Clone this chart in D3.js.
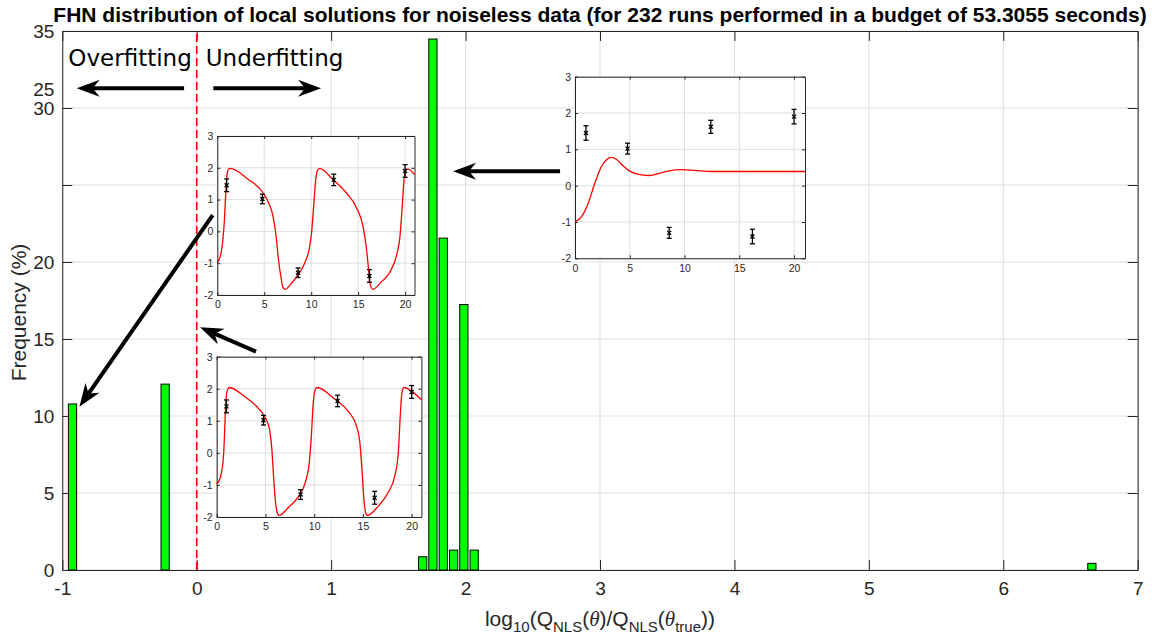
<!DOCTYPE html>
<html>
<head>
<meta charset="utf-8">
<script src="https://cdn.jsdelivr.net/npm/d3@7"></script>
<style>
    body { margin: 0; background: #fff; }
    svg { display: block; font-family: 'Liberation Sans', Arial, sans-serif; }
</style>
</head>
<body>
<svg id="chart" width="1155" height="639"></svg>
<script>

/*
*   Data
*/

const binCenters = [-0.924, -0.235, 1.681, 1.757, 1.834, 1.911, 1.987, 2.064, 6.659]
const frequencies = [10.78, 12.07, 0.86, 34.48, 21.55, 1.29, 17.24, 1.29, 0.43]
const BIN_WIDTH = 0.0766

const xTicks = [-1, 0, 1, 2, 3, 4, 5, 6, 7]
const yTicks = [0, 5, 10, 15, 20, 25, 30, 35]

// measured data shown in every inset
const obsTime = [1, 4.8, 8.6, 12.4, 16.2, 20]
const obsValue = [1.45, 1.02, -1.3, 1.62, -1.4, 1.9]
const obsError = [0.2, 0.15, 0.15, 0.18, 0.2, 0.2]

const insetXTicks = [0, 5, 10, 15, 20]
const insetYTicks = [-2, -1, 0, 1, 2, 3]

// fitted trajectories
const fitTopTime = [0, 0.36, 0.57, 0.75, 0.89, 1.03, 1.21, 1.39, 3.13, 4.9, 5.4, 5.9, 6.25, 6.5, 6.8, 7.0, 7.25, 7.9, 8.6, 9.3, 9.8, 10.05, 10.27, 10.48, 10.66, 10.87, 12.36, 13.78, 14.85, 15.49, 15.84, 16.1, 16.3, 16.55, 17.5, 18.4, 19.1, 19.47, 19.7, 19.9, 20.1, 20.3, 21]
const fitTopValue = [-0.98, -0.74, -0.32, 0.31, 1.14, 1.77, 1.96, 1.98, 1.67, 1.2, 0.94, 0.52, -0.11, -0.85, -1.48, -1.77, -1.82, -1.63, -1.37, -1.0, -0.53, -0.01, 0.83, 1.62, 1.91, 1.98, 1.62, 1.2, 0.73, 0.2, -0.43, -1.16, -1.69, -1.82, -1.58, -1.27, -0.74, -0.11, 0.83, 1.67, 1.96, 1.96, 1.79]

const fitBottomTime = [0, 0.38, 0.58, 0.72, 0.82, 0.93, 1.06, 1.3, 2.85, 4.39, 5.08, 5.42, 5.66, 5.83, 6.0, 6.2, 6.41, 7.3, 8.34, 9.09, 9.5, 9.71, 9.88, 10.05, 10.29, 12.1, 13.48, 14.34, 14.72, 14.92, 15.1, 15.27, 15.47, 16.57, 17.6, 18.28, 18.63, 18.83, 19.0, 19.21, 19.66, 21]
const fitBottomValue = [-0.97, -0.76, -0.45, 0.01, 0.73, 1.56, 1.92, 2.04, 1.76, 1.35, 1.04, 0.73, 0.11, -0.71, -1.43, -1.85, -1.95, -1.72, -1.38, -0.92, -0.3, 0.53, 1.45, 1.92, 2.04, 1.68, 1.3, 0.84, 0.22, -0.61, -1.43, -1.85, -1.95, -1.66, -1.23, -0.71, 0.01, 1.14, 1.87, 2.04, 1.99, 1.66]

const fitRightTime = [0, 0.6, 1.2, 1.8, 2.4, 2.9, 3.35, 3.8, 4.4, 5.0, 5.8, 6.7, 7.6, 8.5, 9.7, 10.95, 12.5, 14.6, 17, 21]
const fitRightValue = [-0.99, -0.85, -0.49, 0.06, 0.52, 0.72, 0.78, 0.72, 0.54, 0.4, 0.31, 0.28, 0.33, 0.4, 0.44, 0.42, 0.39, 0.39, 0.39, 0.39]

// annotation arrows in main-axis units: [x1, y1, x2, y2] (tail -> tip)
const arrows = [
    [-0.094, 31.28, -0.893, 31.28],
    [0.123, 31.28, 0.925, 31.28],
    [0.119, 23.05, -0.873, 10.6],
    [0.441, 14.18, 0.0245, 15.76],
    [2.703, 25.9, 1.907, 25.9],
]

const notes = [
    { text: 'Overfitting', x: -0.955, y: 32.7 },
    { text: 'Underfitting', x: 0.067, y: 32.7 },
]


/*
*   Layout
*/

const COLORS = {
    axis: '#262626',
    grid: '#dfdfdf',
    bar: '#00ff00',
    fit: '#ff0000',
}

const MAIN = { left: 62.3, top: 31, right: 1137.7, bottom: 570 }

const INSETS = [
    { x: 217.3, y: 136, w: 197.2, h: 159, t: fitTopTime, v: fitTopValue },
    { x: 216.7, y: 356.7, w: 204.7, h: 160.3, t: fitBottomTime, v: fitBottomValue },
    { x: 575, y: 76.7, w: 230, h: 181.6, t: fitRightTime, v: fitRightValue },
]

const TICK_FONT = 19
const LABEL_FONT = 21
const Y_LABEL_SHIFT = { 25: -96 }

const svg = d3.select('#chart')

const x = d3.scaleLinear().domain([-1, 7]).range([MAIN.left, MAIN.right])
const y = d3.scaleLinear().domain([0, 35]).range([MAIN.bottom, MAIN.top])

const plain = d => String(d)


/*
*   Styles an axis group MATLAB-like.
*/

const styleAxis = (g, size) => {
    g.select('.domain').attr('stroke', COLORS.axis).attr('stroke-width', 1)
    g.selectAll('.tick line').attr('stroke', COLORS.axis)
    g.selectAll('.tick text').attr('fill', COLORS.axis).style('font-size', size + 'px')
}


/*
*   Grid
*/

const grid = svg.append('g')
grid.selectAll('line.vx').data(xTicks).join('line')
    .attr('x1', d => x(d)).attr('x2', d => x(d))
    .attr('y1', MAIN.top).attr('y2', MAIN.bottom)
    .attr('stroke', COLORS.grid)
grid.selectAll('line.hy').data(yTicks).join('line')
    .attr('x1', MAIN.left).attr('x2', MAIN.right)
    .attr('y1', d => y(d)).attr('y2', d => y(d))
    .attr('stroke', COLORS.grid)


/*
*   Axes
*/

svg.append('g').attr('transform', `translate(0,${MAIN.bottom})`)
    .call(d3.axisBottom(x).tickValues(xTicks).tickFormat(plain).tickSize(-10).tickSizeOuter(0).tickPadding(12))
    .call(g => styleAxis(g, TICK_FONT))
svg.append('g').attr('transform', `translate(0,${MAIN.top})`)
    .call(d3.axisTop(x).tickValues(xTicks).tickSize(-10).tickSizeOuter(0).tickFormat(''))
    .call(g => styleAxis(g, TICK_FONT))
const yAxis = svg.append('g').attr('transform', `translate(${MAIN.left},0)`)
    .call(d3.axisLeft(y).tickValues(yTicks).tickFormat(plain).tickSize(-10).tickSizeOuter(0).tickPadding(8))
    .call(g => styleAxis(g, TICK_FONT))
yAxis.selectAll('.tick text').attr('y', d => Y_LABEL_SHIFT[d] || 0)
svg.append('g').attr('transform', `translate(${MAIN.right},0)`)
    .call(d3.axisRight(y).tickValues(yTicks).tickSize(-10).tickSizeOuter(0).tickFormat(''))
    .call(g => styleAxis(g, TICK_FONT))


/*
*   Bars
*/

svg.append('g').selectAll('rect').data(binCenters).join('rect')
    .attr('x', d => x(d - BIN_WIDTH * 0.4))
    .attr('width', d => x(d + BIN_WIDTH * 0.4) - x(d - BIN_WIDTH * 0.4))
    .attr('y', (d, i) => y(frequencies[i]))
    .attr('height', (d, i) => y(0) - y(frequencies[i]))
    .attr('fill', COLORS.bar)
    .attr('stroke', '#000')
    .attr('stroke-width', 1)

svg.append('line')
    .attr('x1', x(0)).attr('x2', x(0))
    .attr('y1', y(0)).attr('y2', y(35))
    .attr('stroke', COLORS.fit)
    .attr('stroke-width', 1.6)
    .attr('stroke-dasharray', '8,4')


/*
*   Insets
*/

const drawInset = box => {
    const g = svg.append('g').attr('transform', `translate(${box.x},${box.y})`)
    const xi = d3.scaleLinear().domain([0, 21]).range([0, box.w])
    const yi = d3.scaleLinear().domain([-2, 3]).range([box.h, 0])

    g.append('rect').attr('width', box.w).attr('height', box.h).attr('fill', '#fff')

    g.selectAll('line.gx').data(insetXTicks).join('line')
        .attr('x1', d => xi(d)).attr('x2', d => xi(d))
        .attr('y1', 0).attr('y2', box.h)
        .attr('stroke', COLORS.grid)
    g.selectAll('line.gy').data(insetYTicks).join('line')
        .attr('x1', 0).attr('x2', box.w)
        .attr('y1', d => yi(d)).attr('y2', d => yi(d))
        .attr('stroke', COLORS.grid)

    g.append('g').attr('transform', `translate(0,${box.h})`)
        .call(d3.axisBottom(xi).tickValues(insetXTicks).tickFormat(plain).tickSize(-3).tickSizeOuter(0).tickPadding(6))
        .call(a => styleAxis(a, 10.5))
    g.append('g')
        .call(d3.axisTop(xi).tickValues(insetXTicks).tickSize(-3).tickSizeOuter(0).tickFormat(''))
        .call(a => styleAxis(a, 10.5))
    g.append('g')
        .call(d3.axisLeft(yi).tickValues(insetYTicks).tickFormat(plain).tickSize(-3).tickSizeOuter(0).tickPadding(4))
        .call(a => styleAxis(a, 10.5))
    g.append('g').attr('transform', `translate(${box.w},0)`)
        .call(d3.axisRight(yi).tickValues(insetYTicks).tickSize(-3).tickSizeOuter(0).tickFormat(''))
        .call(a => styleAxis(a, 10.5))

    const line = d3.line()
        .x((d, i) => xi(box.t[i]))
        .y(d => yi(d))
        .curve(d3.curveMonotoneX)
    g.append('path')
        .attr('d', line(box.v))
        .attr('fill', 'none')
        .attr('stroke', COLORS.fit)
        .attr('stroke-width', 1.3)

    const pts = g.append('g').selectAll('g').data(obsTime).join('g')
        .attr('transform', (d, i) => `translate(${xi(d)},${yi(obsValue[i])})`)
        .attr('stroke', '#000')
        .attr('stroke-width', 1.3)
    pts.append('line').attr('y1', (d, i) => yi(obsValue[i] + obsError[i]) - yi(obsValue[i]))
        .attr('y2', (d, i) => yi(obsValue[i] - obsError[i]) - yi(obsValue[i]))
    pts.append('line').attr('x1', -2.5).attr('x2', 2.5)
        .attr('y1', (d, i) => yi(obsValue[i] + obsError[i]) - yi(obsValue[i]))
        .attr('y2', (d, i) => yi(obsValue[i] + obsError[i]) - yi(obsValue[i]))
    pts.append('line').attr('x1', -2.5).attr('x2', 2.5)
        .attr('y1', (d, i) => yi(obsValue[i] - obsError[i]) - yi(obsValue[i]))
        .attr('y2', (d, i) => yi(obsValue[i] - obsError[i]) - yi(obsValue[i]))
    pts.append('path').attr('d', 'M-2,-2L2,2M-2,2L2,-2')
}

INSETS.forEach(drawInset)


/*
*   Arrows and notes
*/

const drawArrow = ([x1, y1, x2, y2]) => {
    const ax = x(x1), ay = y(y1), bx = x(x2), by = y(y2)
    const len = Math.hypot(bx - ax, by - ay)
    const ux = (bx - ax) / len, uy = (by - ay) / len
    const px = -uy, py = ux
    const HEAD = 23, HALF = 8.5, NOTCH = 16
    svg.append('line')
        .attr('x1', ax).attr('y1', ay)
        .attr('x2', bx - ux * NOTCH).attr('y2', by - uy * NOTCH)
        .attr('stroke', '#000').attr('stroke-width', 4)
    const head = [
        [bx, by],
        [bx - ux * HEAD + px * HALF, by - uy * HEAD + py * HALF],
        [bx - ux * NOTCH, by - uy * NOTCH],
        [bx - ux * HEAD - px * HALF, by - uy * HEAD - py * HALF],
    ]
    svg.append('polygon').attr('points', head.map(p => p.join(',')).join(' ')).attr('fill', '#000')
}

arrows.forEach(drawArrow)

svg.append('g').selectAll('text').data(notes).join('text')
    .attr('x', d => x(d.x))
    .attr('y', d => y(d.y))
    .style('font-family', "'DejaVu Sans', sans-serif")
    .style('font-size', '23px')
    .attr('fill', '#000')
    .text(d => d.text)


/*
*   Titles
*/

svg.append('text')
    .attr('x', (MAIN.left + MAIN.right) / 2)
    .attr('y', 22)
    .attr('text-anchor', 'middle')
    .style('font-size', '21px')
    .style('font-weight', 'bold')
    .attr('fill', '#000')
    .text('FHN distribution of local solutions for noiseless data (for 232 runs performed in a budget of 53.3055 seconds)')

svg.append('text')
    .attr('transform', `translate(26,${(MAIN.top + MAIN.bottom) / 2 + 12}) rotate(-90)`)
    .attr('text-anchor', 'middle')
    .style('font-size', LABEL_FONT + 'px')
    .attr('fill', COLORS.axis)
    .text('Frequency (%)')

const xLabel = svg.append('text')
    .attr('x', (MAIN.left + MAIN.right) / 2)
    .attr('y', 626)
    .attr('text-anchor', 'middle')
    .style('font-size', LABEL_FONT + 'px')
    .attr('fill', COLORS.axis)

const parts = [
    ['log', 0], ['10', 1], ['(Q', 0], ['NLS', 1], ['(', 0], ['θ', 2], [')/Q', 0], ['NLS', 1], ['(', 0], ['θ', 2], ['true', 1], ['))', 0],
]
let shifted = false
parts.forEach(([s, kind]) => {
    const t = xLabel.append('tspan').text(s)
    if (kind === 1) {
        t.style('font-size', '15px').attr('dy', shifted ? 0 : 6)
        shifted = true
    } else {
        t.attr('dy', shifted ? -6 : 0)
        shifted = false
        if (kind === 2) t.style('font-style', 'italic').style('font-family', "'Liberation Serif', serif")
    }
})

</script>
</body>
</html>
